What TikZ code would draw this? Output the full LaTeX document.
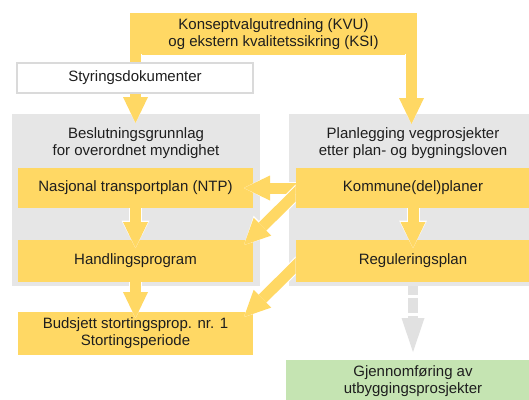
\documentclass[tikz,border=0pt]{standalone}
\usepackage{fontspec}
\setmainfont{Liberation Sans}
\usetikzlibrary{arrows.meta,calc}
\definecolor{yel}{RGB}{255,216,100}
\definecolor{boxgray}{RGB}{230,230,230}
\definecolor{grn}{RGB}{197,228,178}
\definecolor{arrgray}{RGB}{225,225,225}
\definecolor{txt}{RGB}{30,30,30}
\definecolor{edgegray}{RGB}{218,218,218}
\begin{document}
\begin{tikzpicture}[x=1pt,y=-1pt,
  every node/.style={inner sep=0pt, outer sep=0pt, text=txt, align=center,
    font=\fontsize{15}{17}\selectfont},
  ybox/.style={fill=yel, minimum width=235pt, minimum height=#1},
  graybox/.style={fill=boxgray, minimum width=248pt, minimum height=172pt},
  fat/.style={draw=yel, line width=11pt,
    -{Triangle[length=26pt,width=25pt,line width=0pt]},
    preaction={draw=white, line width=13pt,
      -{Triangle[length=27.5pt,width=28pt,line width=0pt]}}},
  gfat/.style={draw=arrgray, line width=10pt,
    dash pattern=on 9pt off 3pt on 15pt off 3pt on 20pt off 0pt,
    -{Triangle[length=34pt,width=23pt,line width=0pt]}},
]
\useasboundingbox (0,0) rectangle (529,399);
\fill[white] (0,0) rectangle (529,399);

% top band
\node[fill=yel, minimum width=287pt, minimum height=42pt] (kvu) at (273.5,34)
  {Konseptvalgutredning (KVU)\\og ekstern kvalitetssikring (KSI)};

% gray column boxes
\node[graybox] (lgray) at (136,200) {};
\node[graybox] (rgray) at (413,200) {};

% legs from the band
\draw[fat] ($(kvu.south west)+(5.5,-1)$) -- ($(kvu.south west |- lgray.north)+(5.5,9)$);
\draw[fat] ($(kvu.south east)+(-5.5,-1)$) -- ($(kvu.south east |- rgray.north)+(-5.5,10)$);

\node[fill=white, draw=edgegray, line width=1.2pt, minimum width=236pt, minimum height=30pt]
  (styr) at (135,78) {Styringsdokumenter};

% titles
\node (lt) at (136,143.5) {Beslutningsgrunnlag\\for overordnet myndighet};
\node (rt) at (413,143.5) {Planlegging vegprosjekter\\etter plan- og bygningsloven};

% yellow boxes
\node[ybox=40pt] (ntp) at (135.5,188) {Nasjonal transportplan (NTP)};
\node[ybox=40pt] (kom) at (413,188) {Kommune(del)planer};
\node[ybox=42pt] (handl) at (135.5,261) {Handlingsprogram};
\node[ybox=42pt] (regul) at (413,261) {Reguleringsplan};
\node[ybox=43pt] (budsj) at (135.5,333.5) {Budsjett stortingsprop. nr. 1\\Stortingsperiode};
\node[fill=grn, minimum width=254pt, minimum height=43pt] (gjen) at (413,381.5)
  {Gjennomføring av\\utbyggingsprosjekter};

% arrows
\draw[fat] (kom.west) -- ($(ntp.east)+(-9,0)$);
\draw[fat] (ntp.south) -- ($(handl.north)+(0,8)$);
\draw[fat] (kom.south) -- ($(regul.north)+(0,8)$);
\draw[fat] (handl.south) -- ($(budsj.north)+(0,6)$);
\coordinate (clipc) at (0,399);
\begin{scope}
  \clip (0,0) rectangle (kom.west |- clipc);
  \draw[fat] ($(kom.west)+(15,-9)$) -- ($(handl.north east)+(-9,5)$);
  \draw[fat] ($(regul.west)+(15,-10)$) -- ($(budsj.north east)+(-9,5)$);
\end{scope}
\draw[gfat] (regul.south |- rgray.south) -- ($(gjen.north)+(0,-8)$);
\end{tikzpicture}
\end{document}
